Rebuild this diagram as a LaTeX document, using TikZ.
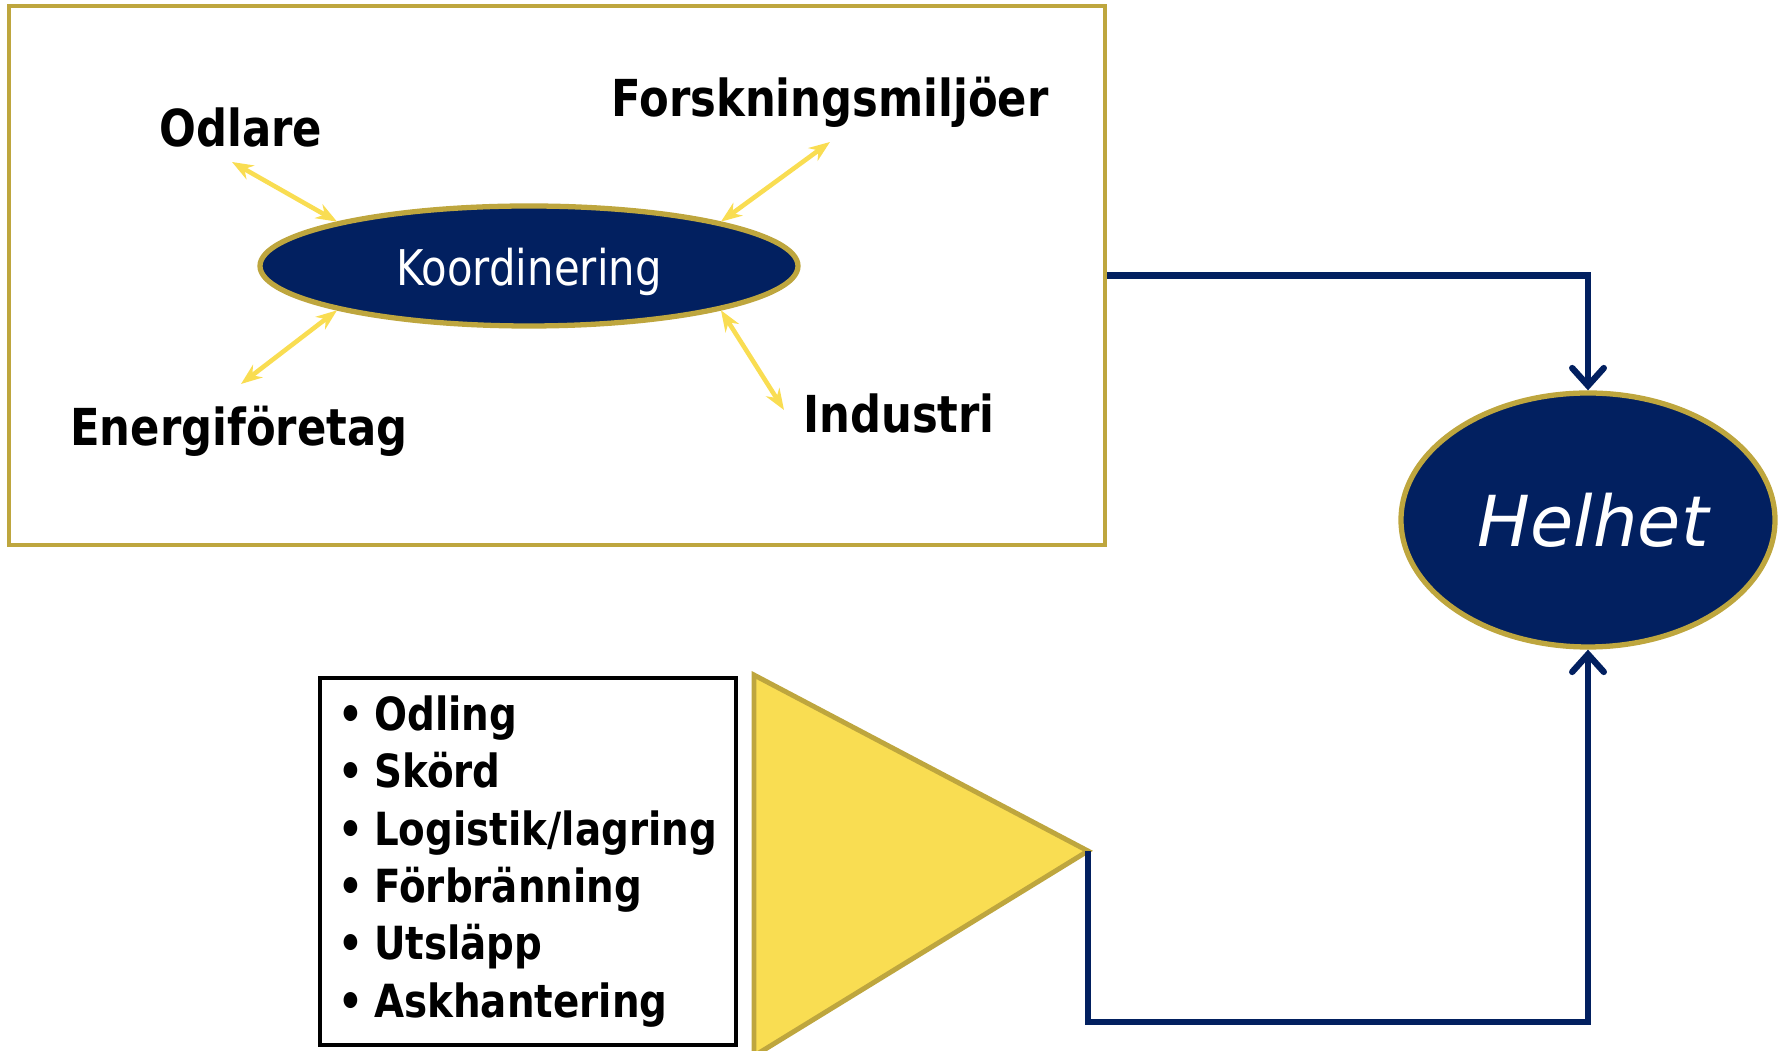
\documentclass[tikz,border=0pt]{standalone}
\usepackage{fontspec}
\setmainfont{DejaVu Sans}[FakeStretch=0.85]
\newfontfamily\widefont{DejaVu Sans}
\usetikzlibrary{arrows.meta, calc, shapes.geometric}

\definecolor{navy}{RGB}{2,32,96}
\definecolor{gold}{RGB}{190,166,62}
\definecolor{sun}{RGB}{249,221,82}

\begin{document}
\begin{tikzpicture}[>=Stealth,
    actor/.style={font=\fontsize{14.5}{17}\selectfont\bfseries},
    hub/.style={ellipse, draw=gold, line width=1.5pt, fill=navy, text=white, inner sep=0pt},
    link/.style={{Stealth[length=6pt,width=4.5pt]}-{Stealth[length=6pt,width=4.5pt]}, sun, line width=1.3pt},
    flow/.style={-{Straight Barb[length=5pt,width=9pt,line cap=round]}, navy, line width=1.8pt}]

  \useasboundingbox (0,0) rectangle (17.81,10.51);

  % Frame with the actors
  \node[draw=gold, line width=1.4pt, minimum width=10.96cm, minimum height=5.39cm] (frame) at (5.57,7.755) {};
  \node[hub, minimum width=5.38cm, minimum height=1.2cm, font=\fontsize{14}{16}\selectfont] (koord) at (5.29,7.85)
    {\raisebox{-1.6pt}[\height][\depth]{Koordinering}};

  \node[actor] (odlare)   at (2.41,9.23) {Odlare};
  \node[actor] (forsk)    at (8.30,9.49) {Forskningsmiljöer};
  \node[actor] (energi)   at (2.39,6.20) {Energiföretag};
  \node[actor] (industri) at (8.99,6.37) {Industri};

  % Free ends of the links
  \coordinate (odlare-tip)   at (2.32,8.89);
  \coordinate (forsk-tip)    at (8.30,9.09);
  \coordinate (energi-tip)   at (2.41,6.67);
  \coordinate (industri-tip) at (7.84,6.41);

  \draw[link] (odlare-tip) -- (koord.167);
  \draw[link] (forsk-tip) -- (koord.13);
  \draw[link] (energi-tip) -- (koord.193);
  \draw[link] (industri-tip) -- (koord.-13);

  % Whole
  \node[hub, minimum width=3.74cm, minimum height=2.54cm, font=\widefont\fontsize{20}{24}\selectfont\itshape] (helhet) at (15.88,5.31) {\hspace{3pt}Helhet};

  % Chain steps
  \node[draw=black, line width=1.4pt, minimum width=4.16cm, minimum height=3.67cm, text width=3.80cm, align=left,
        font=\fontsize{13}{16.3}\selectfont\bfseries] (steps) at (5.28,1.895)
    {\textbullet\hspace{0.25em}Odling\\ \textbullet\hspace{0.25em}Skörd\\ \textbullet\hspace{0.25em}Logistik/lagring\\ \textbullet\hspace{0.25em}Förbränning\\ \textbullet\hspace{0.25em}Utsläpp\\ \textbullet\hspace{0.25em}Askhantering};

  % Triangle
  \coordinate (tri-top) at (7.54,3.76);
  \coordinate (tri-bot) at (7.54,-0.05);
  \coordinate (tip) at (10.88,2.00);
  \draw[gold, fill=sun, line width=1.4pt] (tri-top) -- (tip) -- (tri-bot) -- cycle;

  % Connectors to the whole
  \coordinate (bend) at (10.88,0.29);
  \draw[flow] (frame.east) -| (helhet.north);
  \draw[flow] (tip) -- (bend) -| (helhet.south);

\end{tikzpicture}
\end{document}
